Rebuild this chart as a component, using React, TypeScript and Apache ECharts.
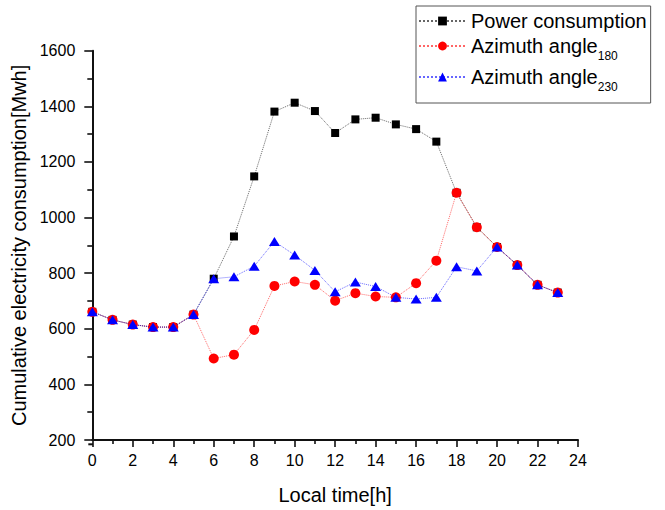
import React, { useEffect, useRef } from "react";
import * as echarts from "echarts";

const hours = [0, 1, 2, 3, 4, 5, 6, 7, 8, 9, 10, 11, 12, 13, 14, 15, 16, 17, 18, 19, 20, 21, 22, 23];
const powerConsumption = [661, 632, 615, 606, 606, 651, 780, 932, 1148, 1381, 1413, 1383, 1304, 1353, 1359, 1335, 1318, 1273, 1089, 965, 894, 829, 758, 730];
const azimuth180 = [661, 632, 615, 606, 606, 651, 493, 507, 596, 754, 770, 758, 701, 728, 716, 713, 764, 845, 1089, 965, 894, 829, 758, 730];
const azimuth230 = [661, 632, 615, 606, 606, 651, 780, 787, 825, 914, 865, 810, 733, 768, 752, 713, 707, 713, 823, 808, 894, 829, 758, 730];
const seriesNames = ["Power consumption", "Azimuth angle180", "Azimuth angle230"];

const FONT = "'Liberation Sans', Arial, sans-serif";

export default function App() {
  const ref = useRef<HTMLDivElement>(null);
  useEffect(() => {
    if (!ref.current) return;
    const chart = echarts.init(ref.current, null, { renderer: "svg" });
    const pair = (vals: number[]) => hours.map((h, i) => [h, vals[i]]);
    const axisColor = "#111";
    chart.setOption({
      animation: false,
      backgroundColor: "#fff",
      textStyle: { fontFamily: FONT },
      grid: { left: 92.3, right: 87, top: 50.7, bottom: 66, containLabel: false },
      legend: {
        orient: "vertical",
        left: 416,
        top: 6,
        width: 237,
        padding: [5, 4, 10, 2],
        borderColor: "#555",
        borderWidth: 1,
        itemWidth: 47,
        itemHeight: 11,
        itemGap: 5,
        data: seriesNames,
        textStyle: {
          fontFamily: FONT,
          fontSize: 20,
          color: "#000",
          rich: {
            p: { fontSize: 20, lineHeight: 26, fontFamily: FONT, color: "#000" },
            n: { fontSize: 20, lineHeight: 22, fontFamily: FONT, color: "#000" },
            s: { fontSize: 12, fontFamily: FONT, color: "#000", padding: [20, 0, 0, 0] },
          },
        },
        formatter: (name: string) => {
          if (name === "Azimuth angle180") return "{n|Azimuth angle}{s|180}";
          if (name === "Azimuth angle230") return "{n|Azimuth angle}{s|230}";
          return "{p|" + name + "}";
        },
      },
      xAxis: {
        type: "value",
        min: 0,
        max: 24,
        interval: 2,
        name: "Local time[h]",
        nameLocation: "middle",
        nameGap: 45,
        nameTextStyle: { fontSize: 20, color: "#000", fontFamily: FONT },
        axisLine: { show: true, lineStyle: { color: axisColor, width: 2 } },
        axisTick: { show: true, inside: false, length: 7, lineStyle: { color: axisColor, width: 1.6 } },
        minorTick: { show: true, splitNumber: 2, length: 4, lineStyle: { color: axisColor, width: 1.6 } },
        axisLabel: { show: true, fontSize: 16, color: "#000", margin: 12, fontFamily: FONT, formatter: (v: number) => String(v) },
        splitLine: { show: false },
        minorSplitLine: { show: false },
      },
      yAxis: {
        type: "value",
        min: 200,
        max: 1600,
        interval: 200,
        offset: 3,
        name: "Cumulative electricity consumption[Mwh]",
        nameLocation: "middle",
        nameGap: 45,
        nameTextStyle: { fontSize: 20, color: "#000", fontFamily: FONT },
        axisLine: { show: true, lineStyle: { color: axisColor, width: 2 } },
        axisTick: { show: true, inside: false, length: 8, lineStyle: { color: axisColor, width: 1.6 } },
        minorTick: { show: true, splitNumber: 2, length: 5, lineStyle: { color: axisColor, width: 1.6 } },
        axisLabel: { show: true, fontSize: 16, color: "#000", margin: 14, fontFamily: FONT, formatter: (v: number) => String(v) },
        splitLine: { show: false },
        minorSplitLine: { show: false },
      },
      graphic: [
        {
          type: "line",
          shape: { x1: 88.3, y1: 444.3, x2: 93, y2: 444.3 },
          style: { stroke: axisColor, lineWidth: 2 },
          z: 10,
        },
      ],
      series: [
        {
          name: seriesNames[0],
          type: "line",
          data: pair(powerConsumption),
          symbol: "rect",
          symbolSize: 8,
          itemStyle: { color: "#000" },
          lineStyle: { color: "#000", width: 1, type: "dotted", opacity: 0.6 },
          z: 2,
        },
        {
          name: seriesNames[1],
          type: "line",
          data: pair(azimuth180),
          symbol: "circle",
          symbolSize: 10,
          itemStyle: { color: "#ff0000" },
          lineStyle: { color: "#ff0000", width: 1, type: "dotted", opacity: 0.6 },
          z: 3,
        },
        {
          name: seriesNames[2],
          type: "line",
          data: pair(azimuth230),
          symbol: "triangle",
          symbolSize: [11, 9],
          itemStyle: { color: "#0000ff" },
          lineStyle: { color: "#0000ff", width: 1, type: "dotted", opacity: 0.6 },
          z: 4,
        },
      ],
    });
    return () => chart.dispose();
  }, []);
  return (
    <div
      ref={ref}
      style={{ position: "fixed", left: 0, top: 0, width: 665, height: 510, background: "#fff" }}
    />
  );
}
